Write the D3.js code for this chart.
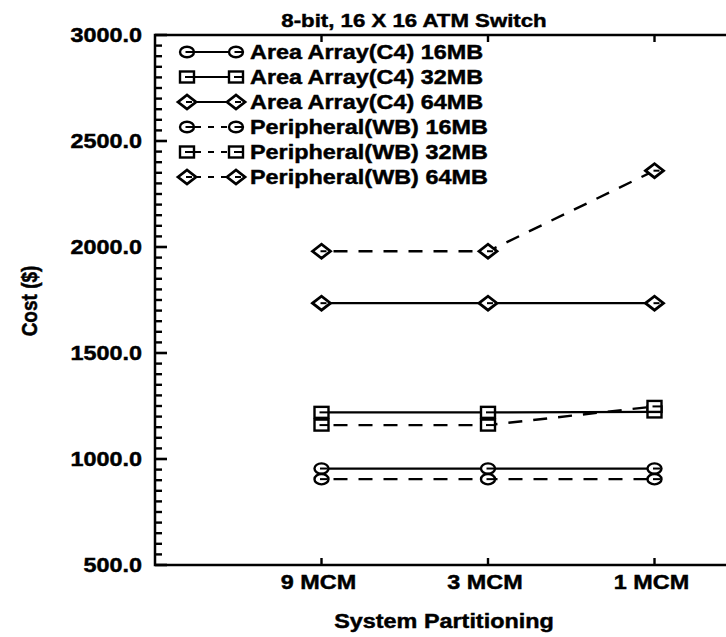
<!DOCTYPE html>
<html>
<head>
<meta charset="utf-8">
<script src="https://cdn.jsdelivr.net/npm/d3@7"></script>
<style>
  html, body { margin: 0; padding: 0; background: #fff; }
  svg { display: block; }
  text { font-family: "Liberation Sans", Arial, Helvetica, sans-serif; font-weight: bold; fill: #000; stroke: #000; stroke-width: 0.45px; }
</style>
</head>
<body>
<svg id="chart" width="726" height="637"></svg>
<script>
// ---- data ----
const categories = ["9 MCM", "3 MCM", "1 MCM"];
const areaArray16 = [955, 955, 955];
const areaArray32 = [1220, 1220, 1222];
const areaArray64 = [1735, 1735, 1735];
const peripheral16 = [905, 905, 905];
const peripheral32 = [1160, 1160, 1248];
const peripheral64 = [1980, 1980, 2360];
const yMajorTicks = [500, 1000, 1500, 2000, 2500, 3000];
const seriesNames = ["Area Array(C4) 16MB", "Area Array(C4) 32MB", "Area Array(C4) 64MB",
                     "Peripheral(WB) 16MB", "Peripheral(WB) 32MB", "Peripheral(WB) 64MB"];
const titleText = "8-bit, 16 X 16 ATM Switch";
const xTitle = "System Partitioning";
const yTitle = "Cost ($)";

const series = [
  { name: seriesNames[0], values: areaArray16, marker: "circle", dashed: false },
  { name: seriesNames[1], values: areaArray32, marker: "square", dashed: false },
  { name: seriesNames[2], values: areaArray64, marker: "diamond", dashed: false },
  { name: seriesNames[3], values: peripheral16, marker: "circle", dashed: true },
  { name: seriesNames[4], values: peripheral32, marker: "square", dashed: true },
  { name: seriesNames[5], values: peripheral64, marker: "diamond", dashed: true }
];

// ---- layout ----
const SX = 1.17; // horizontal stretch of the reference's lettering
const pLeft = 155, pRight = 821, pTop = 35, pBottom = 565;
const svg = d3.select("#chart");

const x = d3.scaleLinear().domain([0, categories.length + 1]).range([pLeft, pRight]);
const y = d3.scaleLinear().domain([500, 3000]).range([pBottom, pTop]);

function stretchText(g, px, py, s, anchor, size) {
  return g.append("text")
    .attr("transform", `translate(${px},${py}) scale(${SX},1)`)
    .attr("text-anchor", anchor)
    .style("font-size", size + "px")
    .text(s);
}

// ---- frame ----
svg.append("path")
  .attr("d", `M${pLeft},${pTop}H${pRight}V${pBottom}H${pLeft}Z`)
  .attr("fill", "none").attr("stroke", "#000").attr("stroke-width", 2.5);

// ---- ticks (drawn from the scales) ----
const minorTicks = d3.range(550, 3000, 50).filter(v => v % 500 !== 0);
const tickG = svg.append("g");
minorTicks.forEach(v => {
  tickG.append("rect").attr("x", pLeft).attr("y", y(v) - 1.2).attr("width", 7).attr("height", 2.4).attr("fill", "#000");
});
yMajorTicks.forEach(v => {
  tickG.append("rect").attr("x", pLeft).attr("y", y(v) - 1.3).attr("width", 12).attr("height", 2.6).attr("fill", "#000");
  tickG.append("rect").attr("x", pRight - 12).attr("y", y(v) - 1.3).attr("width", 12).attr("height", 2.6).attr("fill", "#000");
});
const catIdx = categories.map((c, i) => i + 1);
catIdx.forEach(d => {
  tickG.append("rect").attr("x", x(d) - 1.2).attr("y", pBottom - 7).attr("width", 2.4).attr("height", 7).attr("fill", "#000");
  tickG.append("rect").attr("x", x(d) - 1.2).attr("y", pTop).attr("width", 2.4).attr("height", 7).attr("fill", "#000");
});

// ---- tick labels ----
const fmt = d3.format(".1f");
yMajorTicks.forEach(v => stretchText(svg, pLeft - 13, y(v) + 7, fmt(v), "end", 20));
catIdx.forEach((d, i) => stretchText(svg, x(d) - 3, pBottom + 24, categories[i], "middle", 20));

// ---- titles ----
stretchText(svg, 414, 27, titleText, "middle", 19);
stretchText(svg, 444, 628, xTitle, "middle", 20);
svg.append("text")
  .attr("transform", `translate(37,301) rotate(-90) scale(1,1.15)`)
  .attr("text-anchor", "middle")
  .style("font-size", "19px")
  .text(yTitle);

// ---- markers ----
function drawMarker(g, type, cx, cy) {
  const m = g.append("g").attr("transform", `translate(${cx},${cy})`);
  const sw = 2.4;
  if (type === "circle") {
    m.append("ellipse").attr("rx", 7).attr("ry", 5.2)
      .attr("fill", "#fff").attr("stroke", "#000").attr("stroke-width", sw);
    m.append("line").attr("x1", -1.5).attr("x2", 6).attr("y1", 0).attr("y2", 0)
      .attr("stroke", "#000").attr("stroke-width", 2);
  } else if (type === "square") {
    m.append("rect").attr("x", -7).attr("y", -5.5).attr("width", 14).attr("height", 11)
      .attr("fill", "#fff").attr("stroke", "#000").attr("stroke-width", sw);
    m.append("line").attr("x1", -2).attr("x2", 7).attr("y1", 0).attr("y2", 0)
      .attr("stroke", "#000").attr("stroke-width", 2);
  } else {
    m.append("path").attr("d", "M-9,0 L0,-7 L9,0 L0,7 Z")
      .attr("fill", "#fff").attr("stroke", "#000").attr("stroke-width", 2.8)
      .attr("stroke-linejoin", "miter");
    m.append("line").attr("x1", -1).attr("x2", 5).attr("y1", 0).attr("y2", 0)
      .attr("stroke", "#000").attr("stroke-width", 2);
  }
}

// ---- lines ----
const line = d3.line().x((d, i) => x(i + 1)).y(d => y(d));
const plot = svg.append("g");
series.forEach(s => {
  plot.append("path").datum(s.values)
    .attr("d", line)
    .attr("fill", "none").attr("stroke", "#000")
    .attr("stroke-width", s.dashed ? 2.4 : 2.2)
    .attr("stroke-dasharray", s.dashed ? "14,11" : null)
    .attr("stroke-dashoffset", s.dashed ? -12 : null);
});
series.forEach(s => {
  s.values.forEach((v, i) => drawMarker(plot, s.marker, x(i + 1), y(v)));
});

// ---- legend ----
const legend = svg.append("g");
const lx1 = 187, lx2 = 236, rowY0 = 52, rowH = 25;
series.forEach((s, i) => {
  const cy = rowY0 + i * rowH;
  legend.append("line").attr("x1", lx1).attr("x2", lx2).attr("y1", cy).attr("y2", cy)
    .attr("stroke", "#000").attr("stroke-width", 2.2)
    .attr("stroke-dasharray", s.dashed ? "6,7" : null)
    .attr("stroke-dashoffset", s.dashed ? -8 : null);
  drawMarker(legend, s.marker, lx1, cy);
  drawMarker(legend, s.marker, lx2, cy);
  stretchText(legend, 250, cy + 7, s.name, "start", 20);
});
</script>
</body>
</html>
